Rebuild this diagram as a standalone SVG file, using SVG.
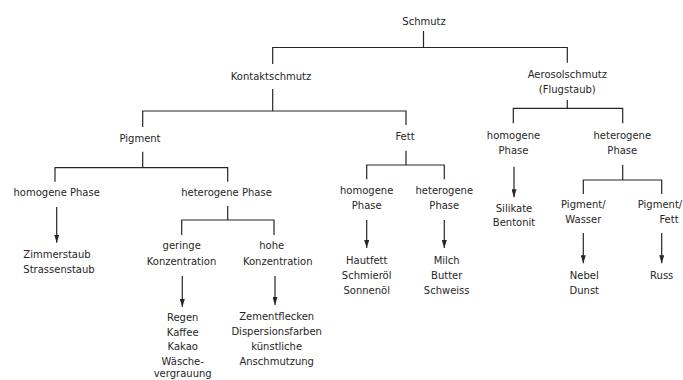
<svg xmlns="http://www.w3.org/2000/svg" width="683" height="380" viewBox="0 0 683 380">
<style>
text{font-family:"DejaVu Sans","Liberation Sans",sans-serif;font-size:10px;fill:#262626;text-anchor:middle}
.c line,.c path{stroke:#262626;stroke-width:1.2;fill:none}
.a{marker-end:url(#ah)}
</style>
<defs>
<marker id="ah" viewBox="0 0 8 5" refX="8" refY="2.5" markerWidth="8" markerHeight="5" markerUnits="userSpaceOnUse" orient="auto">
<path d="M0,0 L8,2.5 L0,5 Z" fill="#262626"/>
</marker>
</defs>
<rect width="683" height="380" fill="#ffffff"/>
<g class="c" id="connectors">
<path d="M423.5,31 V47.5 M272.7,64 V47.5 H567.3 V62.7"/>
<path d="M272.7,89 V111 M142.7,127 V111 H406 V125"/>
<path d="M142.7,151.7 V167.7 M55,181.7 V167.7 H227.7 V181.7"/>
<line class="a" x1="56.7" y1="207" x2="56.7" y2="242.7"/>
<path d="M227.7,206 V220 M181.7,235 V220 H274 V235"/>
<line class="a" x1="182.3" y1="276" x2="182.3" y2="307"/>
<line class="a" x1="275" y1="276" x2="275" y2="305"/>
<path d="M406,150.7 V165 M366.7,179.3 V165 H444.3 V179.3"/>
<line class="a" x1="366.7" y1="220" x2="366.7" y2="248"/>
<line class="a" x1="444.3" y1="220" x2="444.3" y2="248"/>
<path d="M567.3,100 V108.3 M513.3,123.3 V108.3 H622.7 V123.3"/>
<line class="a" x1="514" y1="166.7" x2="514" y2="197.3"/>
<path d="M622.7,165 V180 M583.3,194 V180 H661.7 V194"/>
<line class="a" x1="583.3" y1="233" x2="583.3" y2="263.3"/>
<line class="a" x1="661.7" y1="233" x2="661.7" y2="263.3"/>
</g>
<g id="schmutz"><text x="424" y="25">Schmutz</text></g>
<g id="kontaktschmutz"><text x="271" y="80">Kontaktschmutz</text></g>
<g id="aerosolschmutz"><text x="567.3" y="77.7">Aerosolschmutz</text><text x="567.3" y="93.3">(Flugstaub)</text></g>
<g id="pigment"><text x="140" y="141.7">Pigment</text></g>
<g id="fett"><text x="405" y="140">Fett</text></g>
<g id="aerosol-homogen"><text x="513.5" y="139">homogene</text><text x="513.5" y="154.3">Phase</text></g>
<g id="aerosol-heterogen"><text x="622.3" y="139">heterogene</text><text x="622.3" y="154.3">Phase</text></g>
<g id="pigment-homogen"><text x="56.7" y="196">homogene Phase</text></g>
<g id="pigment-heterogen"><text x="226.5" y="196">heterogene Phase</text></g>
<g id="fett-homogen"><text x="366.7" y="194">homogene</text><text x="366.7" y="209.3">Phase</text></g>
<g id="fett-heterogen"><text x="444.3" y="194">heterogene</text><text x="444.3" y="209.3">Phase</text></g>
<g id="silikate"><text x="514" y="211.7">Silikate</text><text x="514" y="226">Bentonit</text></g>
<g id="pigment-wasser"><text x="583.3" y="208.3">Pigment/</text><text x="583.3" y="223.3">Wasser</text></g>
<g id="pigment-fett"><text x="660" y="208.3">Pigment/</text><text x="669" y="223.3">Fett</text></g>
<g id="geringe"><text x="181.7" y="249">geringe</text><text x="181.5" y="265">Konzentration</text></g>
<g id="hohe"><text x="271.7" y="249">hohe</text><text x="277.7" y="265">Konzentration</text></g>
<g id="zimmerstaub"><text x="57" y="258">Zimmerstaub</text><text x="59" y="273">Strassenstaub</text></g>
<g id="hautfett"><text x="366.7" y="264">Hautfett</text><text x="366.7" y="279.3">Schmieröl</text><text x="366.7" y="294">Sonnenöl</text></g>
<g id="milch"><text x="446.7" y="264">Milch</text><text x="446.7" y="279.3">Butter</text><text x="446.7" y="294">Schweiss</text></g>
<g id="nebel"><text x="584.3" y="279.3">Nebel</text><text x="584.3" y="294.3">Dunst</text></g>
<g id="russ"><text x="661.7" y="279.3">Russ</text></g>
<g id="regen"><text x="182.7" y="320.7">Regen</text><text x="182.7" y="335.6">Kaffee</text><text x="182.7" y="350.4">Kakao</text><text x="182.7" y="365.2">Wäsche-</text><text x="182.7" y="377.3">vergrauung</text></g>
<g id="zementflecken"><text x="276.7" y="320">Zementflecken</text><text x="276.7" y="335">Dispersionsfarben</text><text x="276.7" y="350">künstliche</text><text x="276.7" y="365">Anschmutzung</text></g>
</svg>
